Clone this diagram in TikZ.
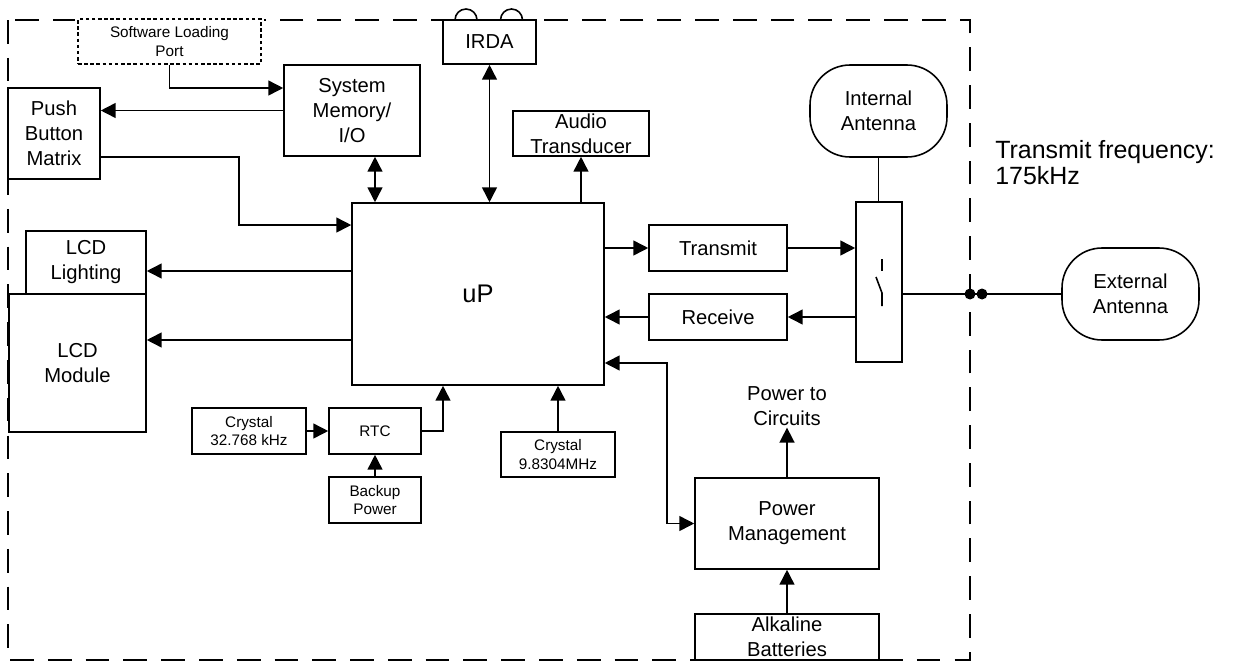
\documentclass[tikz,border=0pt]{standalone}
\usepackage{fontspec}
\setmainfont{Liberation Sans}
\usetikzlibrary{arrows.meta}

\tikzset{
  blk/.style={draw, fill=white, line width=0.9pt, align=center, inner sep=1pt,
    font=\fontsize{11.5}{14.2}\selectfont},
  smallblk/.style={blk, font=\fontsize{8.7}{10.4}\selectfont},
  antenna/.style={blk, rounded corners=0.8cm},
  wire/.style={line width=0.9pt},
}

\begin{document}
\begin{tikzpicture}[line join=miter,>={Triangle[length=8.5pt,width=8.5pt]},x=0.02cm,y=-0.02cm]
\fill[white] (0,0) rectangle (1235,663);
\useasboundingbox (0,0) rectangle (1235,663);
% enclosure
\draw[wire,dash pattern=on 13.5pt off 8pt] (8,20) rectangle (970,660);
\draw[wire] (455,20) arc[start angle=180,end angle=0,radius=0.22cm];
\draw[wire] (500.5,20) arc[start angle=180,end angle=0,radius=0.22cm];
% blocks
\node[smallblk, dash pattern=on 2pt off 1.5pt, preaction={draw=white,line width=3pt,solid},
  minimum width=3.66cm, minimum height=0.9cm] (slp) at (169.5,41.5) {Software Loading\\Port};
\node[blk, minimum width=2.72cm, minimum height=1.82cm] (mem) at (352,110.5) {System\\Memory/\\I/O};
\node[blk, minimum width=1.84cm, minimum height=1.82cm] (keys) at (54,133.5) {Push\\Button\\Matrix};
\node[blk, minimum width=1.86cm, minimum height=0.88cm] (irda) at (489.5,42) {IRDA};
\node[blk, minimum width=2.72cm, minimum height=0.9cm] (audio) at (581,133.5) {Audio\\Transducer};
\node[blk, font=\fontsize{14.5}{16}\selectfont, minimum width=5.04cm, minimum height=3.64cm] (up) at (478,294) {uP};
\node[blk, minimum width=2.4cm, minimum height=1.26cm] (lcdlight) at (86,262.5) {LCD\\Lighting};
\node[blk, minimum width=2.74cm, minimum height=2.76cm] (lcd) at (77.5,363) {LCD\\Module};
\node[smallblk, minimum width=2.28cm, minimum height=0.92cm] (xtal) at (249,431) {Crystal\\32.768 kHz};
\node[smallblk, minimum width=1.84cm, minimum height=0.92cm] (rtc) at (375,431) {RTC};
\node[smallblk, minimum width=1.84cm, minimum height=0.92cm] (backup) at (375,500) {Backup\\Power};
\node[smallblk, minimum width=2.28cm, minimum height=0.9cm] (xtalb) at (558,454.5) {Crystal\\9.8304MHz};
\node[blk, minimum width=2.76cm, minimum height=0.92cm] (tx) at (718,248) {Transmit};
\node[blk, minimum width=2.76cm, minimum height=0.92cm] (rx) at (718,317) {Receive};
\node[blk, minimum width=0.92cm, minimum height=3.2cm] (sw) at (879,282) {};
\node[blk, minimum width=3.68cm, minimum height=1.82cm] (pwr) at (787,523.5) {Power\\Management};
\node[blk, minimum width=3.68cm, minimum height=0.92cm] (batt) at (787,637) {Alkaline\\Batteries};
\node[antenna, minimum width=2.74cm, minimum height=1.84cm] (intant) at (878.5,111) {Internal\\Antenna};
\node[antenna, minimum width=2.74cm, minimum height=1.84cm] (extant) at (1130.5,294) {External\\Antenna};
\node[align=center, font=\fontsize{11.5}{14.2}\selectfont, inner sep=1pt] (ptc) at (787,406) {Power to\\Circuits};
\node[anchor=west, align=left, font=\fontsize{14.2}{14.8}\selectfont, inner sep=0pt] (freq) at (995,163) {Transmit frequency:\\175kHz};
% switch
\draw[wire] (882,259) -- (882,271);
\draw[wire] (876,277) -- (882,293) -- (882,306);
% connectors
\draw[wire,->] (slp.south) |- ([yshift=0.45cm]mem.west);
\draw[wire,->] (mem.west) -- (mem.west -| keys.east);
\draw[wire,->] ([yshift=-0.47cm]keys.east) -- ++(138,0) |- ([yshift=1.38cm]up.west);
\draw[wire,<->] ([xshift=0.46cm]mem.south) -- ([xshift=0.46cm]mem.south |- up.north);
\draw[wire,<->] (irda.south) -- (irda.south |- up.north);
\draw[wire,->] (audio.south |- up.north) -- (audio.south);
\draw[wire,->] ([yshift=0.46cm]up.west) -- ([yshift=0.46cm]up.west -| lcdlight.east);
\draw[wire,->] ([yshift=-0.92cm]up.west) -- ([yshift=-0.92cm]up.west -| lcd.east);
\draw[wire,->] (xtal.east) -- (rtc.west);
\draw[wire,->] (backup.north) -- (rtc.south);
\draw[wire,->] (rtc.east) -| ([xshift=-0.7cm]up.south);
\draw[wire,->] (xtalb.north) -- (xtalb.north |- up.south);
\draw[wire,->] (tx.west -| up.east) -- (tx.west);
\draw[wire,->] (tx.east) -- (tx.east -| sw.west);
\draw[wire,->] (rx.east -| sw.west) -- (rx.east);
\draw[wire,->] (rx.west) -- (rx.west -| up.east);
\draw[wire,<->] ([yshift=-1.38cm]up.east) -| ([xshift=-0.54cm]pwr.west) -- (pwr.west);
\draw[wire,->] (pwr.north) -- (ptc.south);
\draw[wire,->] (batt.north) -- (pwr.south);
\draw[wire] (intant.south) -- (intant.south |- sw.north);
\draw[wire] (extant.west -| sw.east) -- (extant.west);
\fill (970,294) circle[radius=0.11cm];
\fill (982,294) circle[radius=0.11cm];
\end{tikzpicture}
\end{document}
